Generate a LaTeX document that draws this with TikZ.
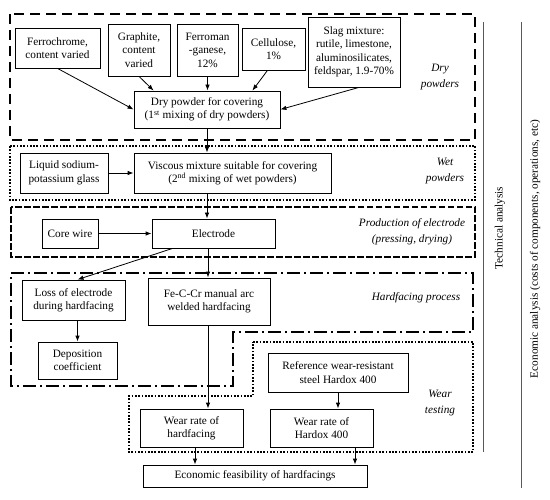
\documentclass[tikz,border=0pt]{standalone}
\usepackage{fontspec}
\setmainfont{Liberation Serif}
\usetikzlibrary{arrows.meta,calc}
\begin{document}
\begin{tikzpicture}[x=1bp,y=-1bp,
  every node/.style={font=\fontsize{11.3}{13.5}\selectfont, inner sep=0pt, align=center},
  bx/.style 2 args={draw, line width=0.8bp, minimum width=#1 bp, minimum height=#2 bp},
  arr/.style={line width=0.8bp, -{Latex[length=6bp,width=4.5bp]}},
  lbl/.style={font=\fontsize{11.3}{16}\selectfont\itshape},
  dashbig/.style={line width=2bp, dash pattern=on 10bp off 6bp},
  dashsmall/.style={line width=2bp, dash pattern=on 6.5bp off 2.5bp},
  dotbox/.style={line width=2bp, dash pattern=on 1.7bp off 1.6bp},
  dashdotbox/.style={line width=2bp, dash pattern=on 13bp off 4bp on 2bp off 4bp},
  side/.style={line width=1bp, draw=black!65},
]
\useasboundingbox (0,0) rectangle (550,500);

% group frames
\draw[dashbig] (10,14) rectangle (475,140);
\draw[dotbox] (10,146) rectangle (475,200);
\draw[dashsmall] (11,207) rectangle (475,257);
\draw[dashdotbox] (11,273) -- (473,273) -- (473,332) -- (233,332) -- (233,386) -- (11,386) -- cycle;
\draw[dotbox] (253,342) -- (473,342) -- (473,452) -- (129,452) -- (129,396) -- (253,396) -- cycle;

% group labels
\node[lbl] (ldry) at (440,77) {Dry\\powders};
\node[lbl] (lwet) at (445,171) {Wet\\powders};
\node[lbl] (lprod) at (412,232) {Production of electrode\\(pressing, drying)};
\node[lbl] (lhard) at (416,298) {Hardfacing process};
\node[lbl] (lwear) at (440,403) {Wear\\testing};

% nodes
\node[bx={85}{40}] (fc) at (57.5,48) {Ferrochrome,\\content varied};
\node[bx={62}{52}] (gr) at (139,50) {Graphite,\\content\\varied};
\node[bx={61}{52}] (fm) at (207.5,50) {Ferroman\\-ganese,\\12\%};
\node[bx={63}{42}] (ce) at (273.5,49) {Cellulose,\\1\%};
\node[bx={92}{70}] (sl) at (354,52) {Slag mixture:\\rutile, limestone,\\aluminosilicates,\\feldspar, 1.9-70\%};
\node[bx={146}{37}] (dp) at (207,109.5) {Dry powder for covering\\(1\textsuperscript{st} mixing of dry powders)};
\node[bx={88}{40}] (lq) at (64,173) {Liquid sodium-\\potassium glass};
\node[bx={197}{40}] (vm) at (232.5,173) {Viscous mixture suitable for covering\\(2\textsuperscript{nd} mixing of wet powders)};
\node[bx={56}{29}] (cw) at (70,233.5) {Core wire};
\node[bx={123}{29}] (el) at (213.5,233.5) {Electrode};
\node[bx={103}{40}] (lo) at (73.5,300) {Loss of electrode\\during hardfacing};
\node[bx={122}{47}] (fe) at (209,301.5) {Fe-C-Cr manual arc\\welded hardfacing};
\node[bx={79}{37}] (de) at (77.5,360.5) {Deposition\\coefficient};
\node[bx={140}{39}] (rf) at (338,372.5) {Reference wear-resistant\\steel Hardox 400};
\node[bx={103}{38}] (wh) at (191.5,428) {Wear rate of\\hardfacing};
\node[bx={103}{38}] (wx) at (321.5,428) {Wear rate of\\Hardox 400};
\node[bx={224}{22}] (ec) at (255,476) {Economic feasibility of hardfacings};

% helper coordinates for connector positions
\coordinate (a1) at ($(fe.north)+(-1,0)$);
\coordinate (a2) at ($(fe.south)+(-1,0)$);
\coordinate (a3) at ($(wh.south)+(3.5,0)$);
\coordinate (a4) at ($(wx.south)+(33.5,0)$);

% connectors
\draw[arr] (fc.south) -- (dp.west);
\draw[arr] (gr.south) -- ($(dp.north west)+(20,0)$);
\draw[arr] (fm.south) -- (fm.south |- dp.north);
\draw[arr] ($(ce.south)+(-6,0)$) -- ($(dp.north east)+(-28,0)$);
\draw[arr] ($(sl.south)+(5,0)$) -- (dp.east);
\draw[arr] (dp.south) -- (dp.south |- vm.north);
\draw[arr] (lq.east) -- (vm.west);
\draw[arr] (dp.south |- vm.south) -- (dp.south |- el.north);
\draw[arr] (cw.east) -- (el.west);
\draw[arr] ($(el.south west)+(21,0)$) -- ($(lo.north)+(4,0)$);
\draw[arr] (a1 |- el.south) -- (a1);
\draw[arr] (de.north |- lo.south) -- (de.north);
\draw[arr] (a2) -- (a2 |- wh.north);
\draw[arr] (rf.south) -- (rf.south |- wx.north);
\draw[arr] (a3) -- (a3 |- ec.north);
\draw[arr] (a4) -- (a4 |- ec.north);

% side analysis lines
\coordinate (t1) at (483,22);
\coordinate (t2) at (483,452);
\coordinate (e1) at (521,22);
\coordinate (e2) at (521,488);
\draw[side] (t1) -- (t2);
\draw[side] (e1) -- (e2);
\node[rotate=90] (ta) at (500,228) {Technical analysis};
\node[rotate=90] (ea) at (535,249) {Economic analysis (costs of components, operations, etc)};
\end{tikzpicture}
\end{document}
